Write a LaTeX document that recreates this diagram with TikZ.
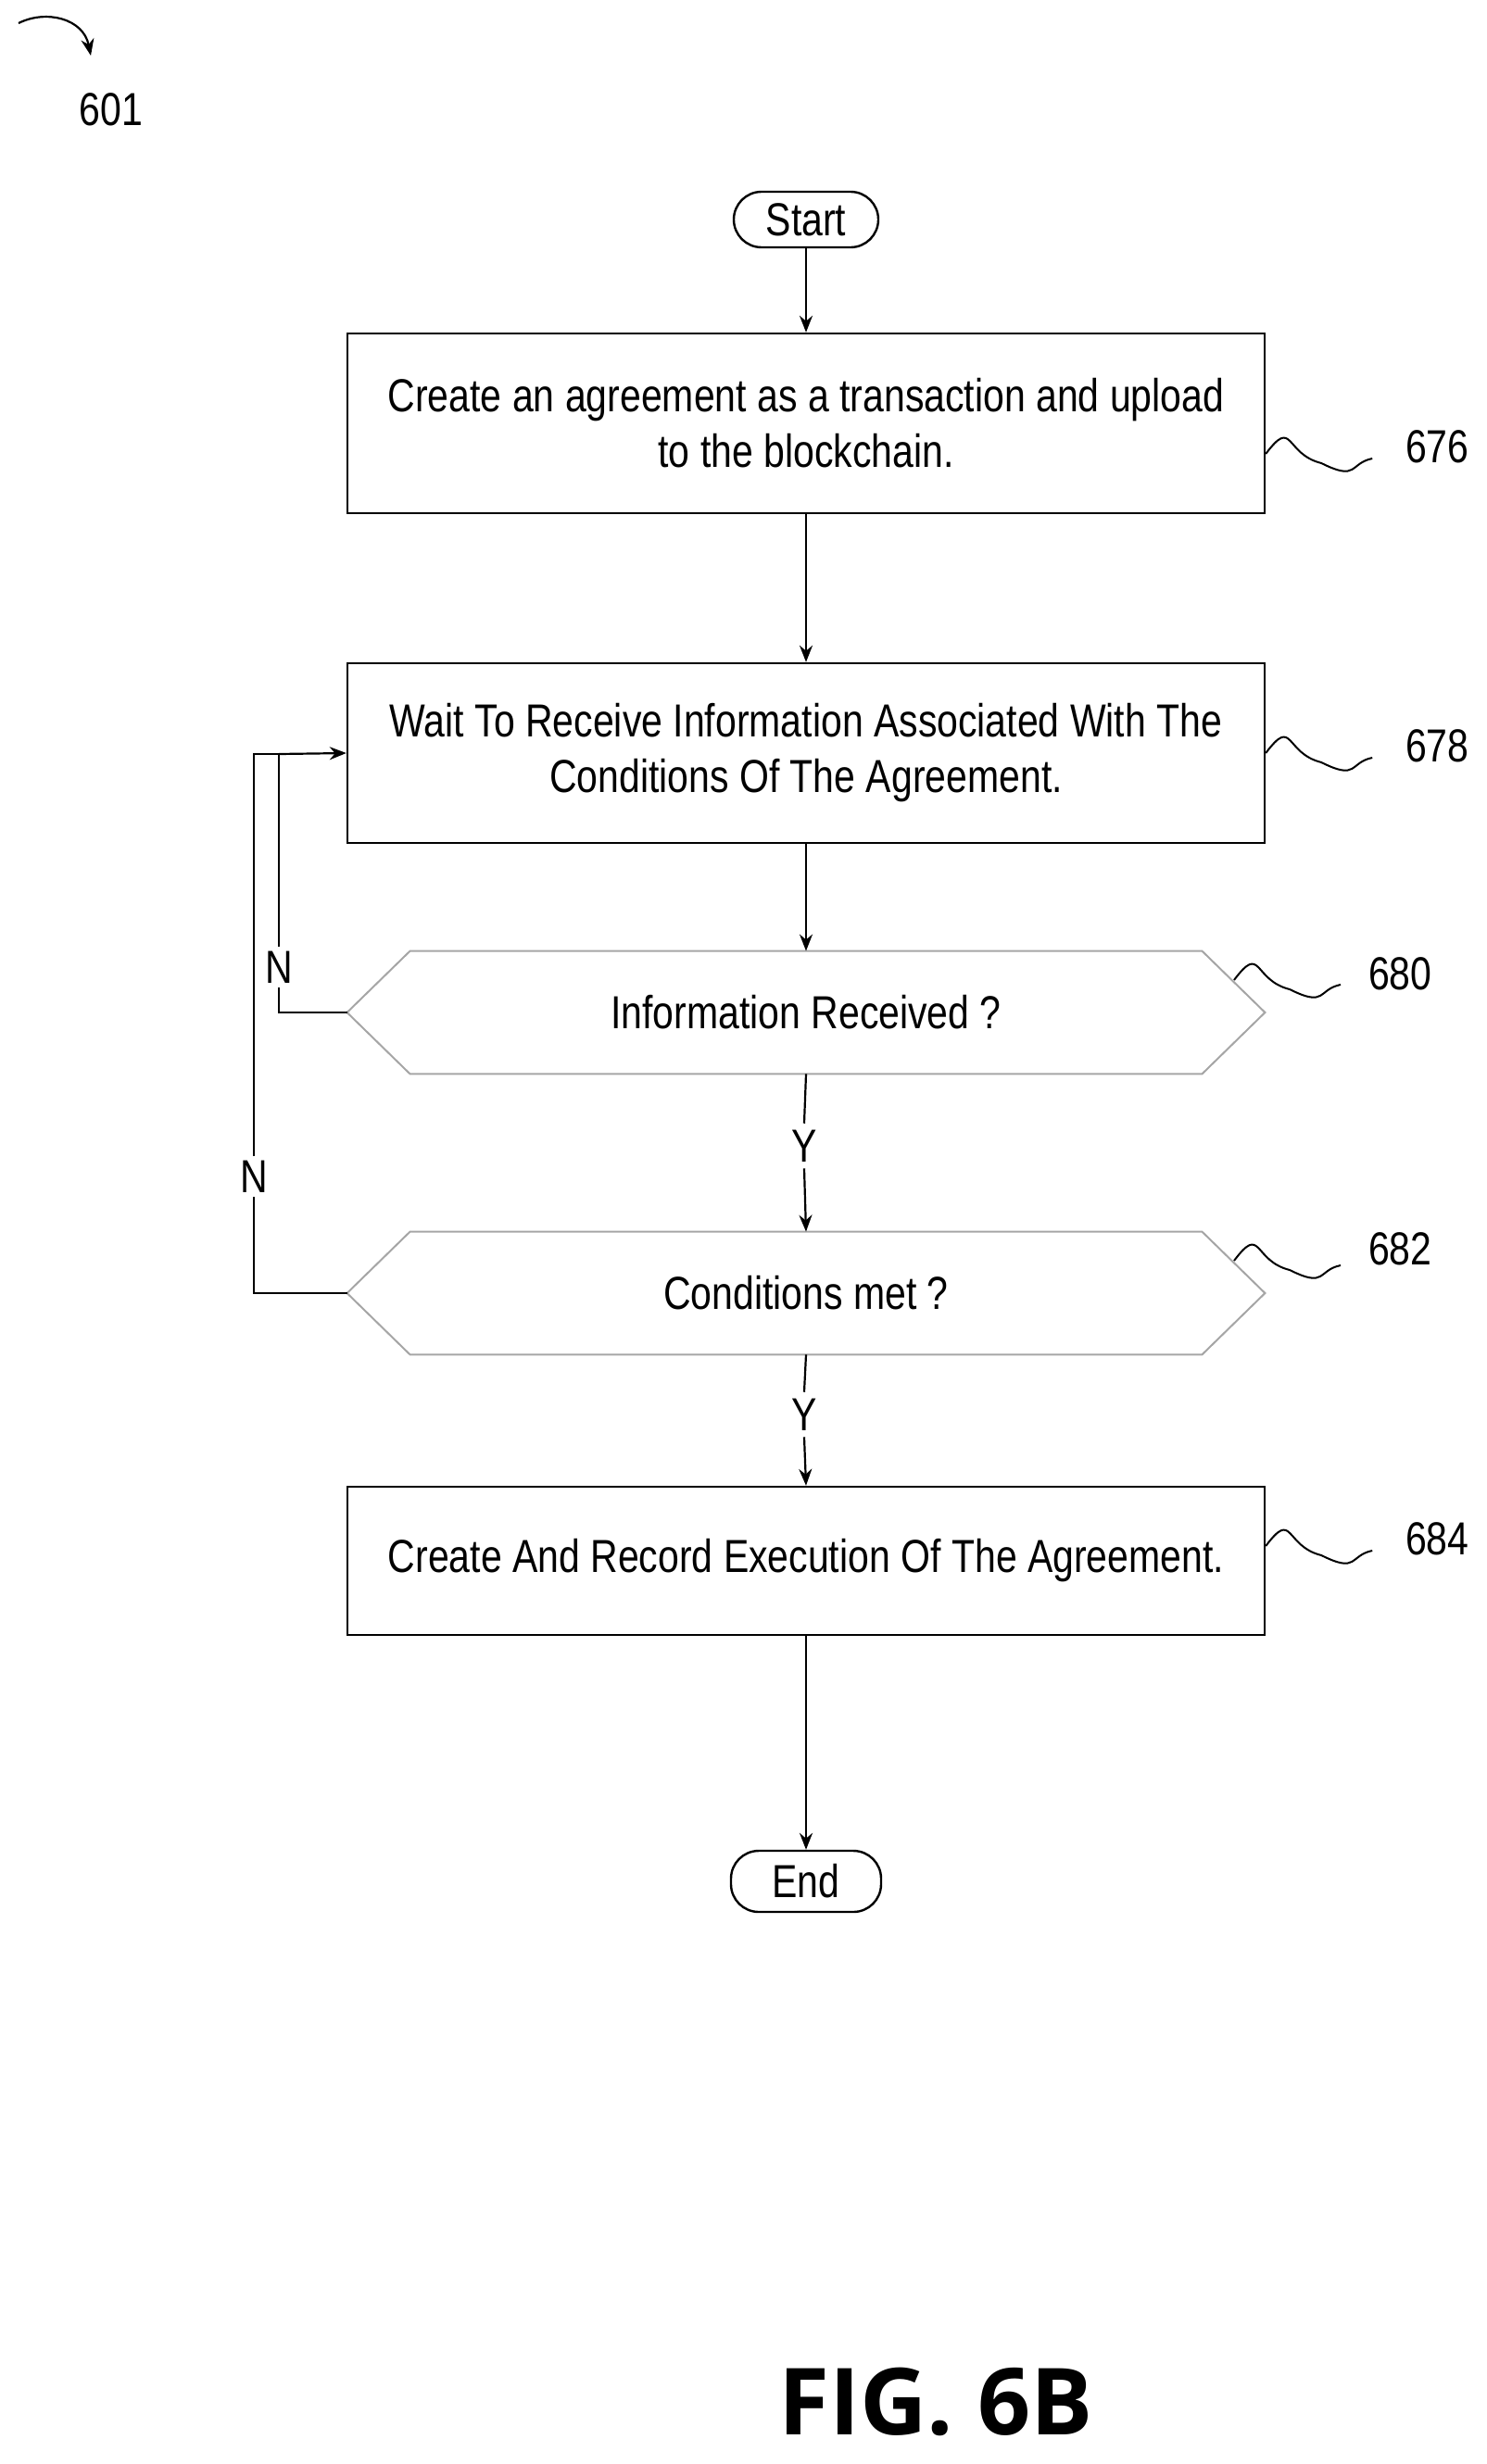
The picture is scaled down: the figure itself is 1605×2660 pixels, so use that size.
\documentclass[tikz,border=0pt]{standalone}
\usepackage{fontspec}
\setmainfont{Liberation Sans}[FakeStretch=0.82]
\newfontfamily\figfont{Open Sans}
\usetikzlibrary{arrows.meta,calc}
\begin{document}
\begin{tikzpicture}[x=0.5pt,y=-0.5pt,
  every node/.style={font=\fontsize{25}{30}\selectfont},
  box/.style={draw, line width=1.2pt, minimum width=495pt, align=center, inner sep=0pt},
  term/.style={draw, line width=1.2pt, rounded corners=15pt, minimum height=30pt, minimum width=78pt, inner xsep=4pt, inner ysep=0pt},
  dec/.style={minimum width=495pt, minimum height=66pt, inner sep=0pt},
  hexl/.style={draw=gray!70, line width=1pt},
  ar/.style={-{Stealth[length=9pt,width=7pt]}, line width=1.1pt},
  ln/.style={line width=1.1pt},
  sq/.style={line width=1pt}]
\useasboundingbox (0,0) rectangle (1605,2660);
% 601
\node (n601) at (120,118) {601};
\coordinate (c601a) at (20,25);
\coordinate (c601b) at (98,60);
\draw[ar] (c601a) .. controls (50,10) and (90,20) .. (c601b);
% nodes
\node[term] (start) at (870,237) {Start};
\node[box, minimum height=97pt] (b676) at (870,457) {Create an agreement as a transaction and upload\\to the blockchain.};
\node[box, minimum height=97pt] (b678) at (870,813) {Wait To Receive Information Associated With The\\Conditions Of The Agreement.};
\node[dec] (d680) at (870,1093) {Information Received ?};
\node[dec] (d682) at (870,1396) {Conditions met ?};
\node[box, minimum height=80pt] (b684) at (870,1685) {Create And Record Execution Of The Agreement.};
\node[term, minimum width=81pt, minimum height=33pt] (end) at (870,2031) {End};
% hexagons
\foreach \d in {d680,d682}{
  \draw[hexl] (\d.west) -- ($(\d.north west)+(68,0)$) -- ($(\d.north east)+(-68,0)$) -- (\d.east)
    -- ($(\d.south east)+(-68,0)$) -- ($(\d.south west)+(68,0)$) -- cycle;
}
% connectors
\draw[ar] (start) -- (b676);
\draw[ar] (b676) -- (b678);
\draw[ar] (b678) -- (d680);
\node (y1) at (868,1237) {Y};
\node (y2) at (868,1527) {Y};
\draw[ln] (d680.south) -- (y1.north);
\draw[ar] (y1.south) -- (d682.north);
\draw[ln] (d682.south) -- (y2.north);
\draw[ar] (y2.south) -- (b684.north);
\draw[ar] (b684) -- (end);
\coordinate (lin) at (301,814);
\coordinate (lout) at (274,814);
\node[fill=white, inner sep=2pt] (n1) at (301,1044) {N};
\node[fill=white, inner sep=2pt] (n2) at (274,1270) {N};
\draw[ln] (d680.west) -- (301,1093) -- (n1.south);
\draw[ln] (n1.north) -- (lin);
\draw[ln] (d682.west) -- (274,1396) -- (n2.south);
\draw[ln] (n2.north) -- (lout) -- (lin);
\draw[ar] (lin) -- (b678.west);
% reference labels
\foreach \b/\t/\y in {b676/676/490, b678/678/813, b684/684/1669}{
  \coordinate (s\t) at (\b.east |- 0,\y);
  \draw[sq] (s\t) .. controls +(30,-40) and +(-40,-10) .. +(60,10) .. controls +(40,20) and +(-25,5) .. +(115,5);
  \node[anchor=west] (l\t) at (1510,\y-8) {\t};
}
\coordinate (s680) at (1332,1058);
\draw[sq] (s680) .. controls +(30,-40) and +(-40,-10) .. +(60,10) .. controls +(40,20) and +(-25,5) .. +(115,5);
\node[anchor=west] (l680) at (1470,1051) {680};
\coordinate (s682) at (1332,1361);
\draw[sq] (s682) .. controls +(30,-40) and +(-40,-10) .. +(60,10) .. controls +(40,20) and +(-25,5) .. +(115,5);
\node[anchor=west] (l682) at (1470,1348) {682};
\node[font=\figfont\bfseries\fontsize{50}{60}\selectfont] (fig) at (1010,2593) {FIG. 6B};
\end{tikzpicture}
\end{document}
